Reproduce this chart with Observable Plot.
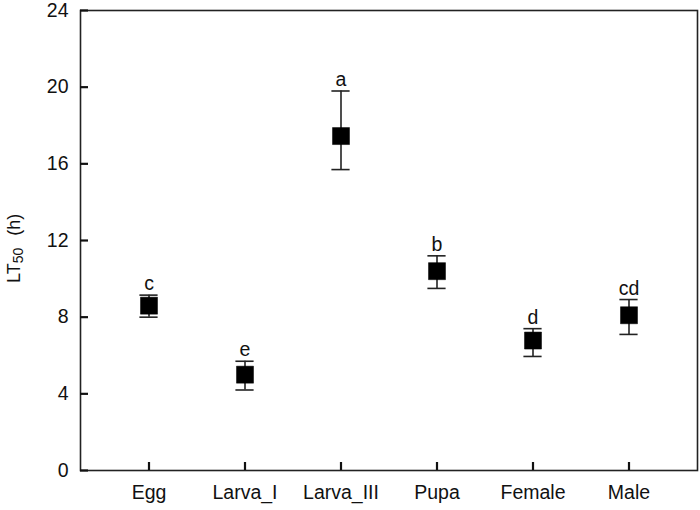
<!DOCTYPE html>
<html>
<head>
<meta charset="utf-8">
<script src="https://cdn.jsdelivr.net/npm/d3@7"></script>
<script src="https://cdn.jsdelivr.net/npm/@observablehq/plot@0.6"></script>
<style>
  html, body { margin: 0; padding: 0; background: #fff; }
  #chart { width: 700px; height: 510px; }
</style>
</head>
<body>
<div id="chart"></div>
<script>
const stages = ["Egg", "Larva_I", "Larva_III", "Pupa", "Female", "Male"];
const lt50 = [8.6, 5.0, 17.45, 10.4, 6.78, 8.1];
const lower = [8.0, 4.2, 15.7, 9.5, 5.95, 7.1];
const upper = [9.15, 5.7, 19.8, 11.2, 7.4, 8.92];
const letters = ["c", "e", "a", "b", "d", "cd"];
const yTicks = [0, 4, 8, 12, 16, 20, 24];

const data = stages.map((s, i) => ({stage: s, v: lt50[i], lo: lower[i], hi: upper[i], letter: letters[i]}));

const ink = "#111";
const font = "'Liberation Sans', Arial, sans-serif";
const chart = Plot.plot({
  width: 700,
  height: 510,
  marginLeft: 80,
  marginRight: 3,
  marginTop: 10,
  marginBottom: 40,
  style: {fontFamily: font, fontSize: "19.5px", color: ink, background: "#fff"},
  x: {type: "band", domain: stages, paddingInner: 0.8, paddingOuter: 0.607},
  y: {domain: [0, 24]},
  marks: [
    Plot.frame({stroke: "#222", strokeWidth: 1.6}),
    Plot.axisY({ticks: yTicks, tickSize: 0, tickPadding: 12, fontSize: 19.5, label: null}),
    Plot.axisY({ticks: yTicks, tickSize: 8, dx: 8, text: null, strokeWidth: 2.2, stroke: "#111", label: null}),
    Plot.axisX({tickSize: 0, tickPadding: 15, fontSize: 19.5, label: null}),
    Plot.axisX({tickSize: 8, dy: -8, text: null, strokeWidth: 2.2, stroke: "#111", label: null}),
    Plot.ruleX(data, {x: "stage", y1: "lo", y2: "hi", stroke: "#222", strokeWidth: 1.6}),
    Plot.tickY(data, {x: "stage", y: "lo", insetLeft: 0.4, insetRight: 0.4, stroke: "#222", strokeWidth: 1.6}),
    Plot.tickY(data, {x: "stage", y: "hi", insetLeft: 0.4, insetRight: 0.4, stroke: "#222", strokeWidth: 1.6}),
    Plot.dot(data, {x: "stage", y: "v", symbol: "square", r: 9.6, fill: "#000", stroke: "#000", strokeWidth: 0.5}),
    Plot.text(data, {x: "stage", y: "hi", text: "letter", lineAnchor: "bottom", dy: -5, fontSize: 19.5, fill: ink})
  ]
});

const svg = d3.select(chart);
const label = svg.append("text")
  .attr("transform", "translate(19.5,283) rotate(-90)")
  .attr("text-anchor", "start")
  .attr("font-family", font)
  .attr("font-size", 18)
  .attr("fill", ink);
label.append("tspan").text("LT");
label.append("tspan").attr("font-size", 14).attr("dy", 3.5).text("50");
label.append("tspan").attr("dy", -3.5).attr("dx", 7).text(" (h)");

document.getElementById("chart").appendChild(chart);
</script>
</body>
</html>
